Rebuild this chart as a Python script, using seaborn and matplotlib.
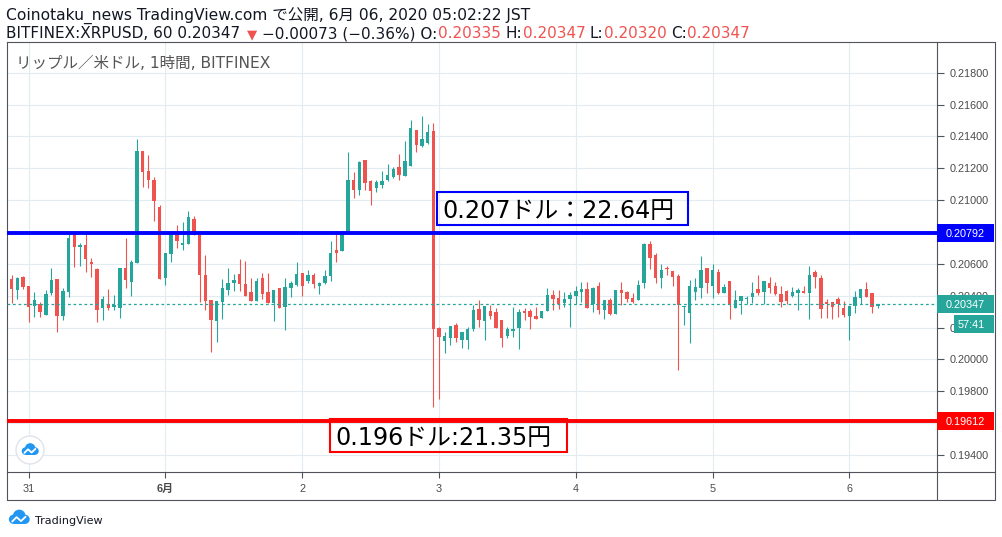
import numpy as np
import pandas as pd
import matplotlib
matplotlib.use("Agg")
import matplotlib.pyplot as plt
import seaborn as sns
from matplotlib.patches import Rectangle, Circle
from matplotlib.lines import Line2D
from matplotlib.transforms import IdentityTransform

# ---------------- data (XRP/USD, 1h candles, JST) ----------------
first_candle = "2020-05-30 21:00"

open_ = [0.20505, 0.20436, 0.20517, 0.20461, 0.20337, 0.20348, 0.20281, 0.20419, 0.20505, 0.20275,
         0.20425, 0.20785, 0.20708, 0.20720, 0.20612, 0.20570, 0.20325, 0.20348, 0.20331, 0.20325,
         0.20574, 0.20488, 0.20605, 0.21308, 0.21185, 0.21128, 0.20957, 0.20513, 0.20664, 0.20783,
         0.20720, 0.20727, 0.20882, 0.20783, 0.20532, 0.20373, 0.20243, 0.20363, 0.20438, 0.20482,
         0.20536, 0.20476, 0.20423, 0.20369, 0.20511, 0.20423, 0.20356, 0.20448, 0.20331, 0.20450,
         0.20467, 0.20542, 0.20492, 0.20530, 0.20463, 0.20480, 0.20524, 0.20687, 0.20681, 0.20796,
         0.21126, 0.21064, 0.21252, 0.21120, 0.21076, 0.21095, 0.21126, 0.21145, 0.21208, 0.21151,
         0.21214, 0.21440, 0.21342, 0.21361, 0.21434, 0.20195, 0.20118, 0.20136, 0.20216, 0.20124,
         0.20124, 0.20191, 0.20316, 0.20243, 0.20304, 0.20298, 0.20247, 0.20149, 0.20180, 0.20199,
         0.20304, 0.20304, 0.20273, 0.20260, 0.20304, 0.20404, 0.20386, 0.20354, 0.20379, 0.20398,
         0.20423, 0.20442, 0.20348, 0.20461, 0.20310, 0.20373, 0.20285, 0.20436, 0.20423, 0.20386,
         0.20373, 0.20482, 0.20725, 0.20658, 0.20513, 0.20576, 0.20555, 0.20524, 0.20327, 0.20293,
         0.20423, 0.20448, 0.20574, 0.20461, 0.20549, 0.20417, 0.20492, 0.20323, 0.20367, 0.20379,
         0.20392, 0.20442, 0.20423, 0.20480, 0.20461, 0.20411, 0.20429, 0.20398, 0.20417, 0.20429,
         0.20417, 0.20549, 0.20511, 0.20360, 0.20360, 0.20379, 0.20323, 0.20273, 0.20335, 0.20386,
         0.20442, 0.20417, 0.20335]

high_ = [0.20530, 0.20517, 0.20524, 0.20461, 0.20421, 0.20360, 0.20436, 0.20574, 0.20505, 0.20448,
         0.20785, 0.20785, 0.20733, 0.20785, 0.20637, 0.20576, 0.20398, 0.20442, 0.20404, 0.20574,
         0.20764, 0.20624, 0.21384, 0.21308, 0.21285, 0.21145, 0.20969, 0.20668, 0.20783, 0.20844,
         0.20863, 0.20932, 0.20900, 0.20783, 0.20656, 0.20373, 0.20367, 0.20507, 0.20574, 0.20536,
         0.20630, 0.20618, 0.20511, 0.20511, 0.20542, 0.20542, 0.20436, 0.20448, 0.20511, 0.20492,
         0.20612, 0.20542, 0.20561, 0.20542, 0.20486, 0.20561, 0.20746, 0.20796, 0.20796, 0.21302,
         0.21177, 0.21246, 0.21252, 0.21126, 0.21126, 0.21183, 0.21227, 0.21208, 0.21290, 0.21371,
         0.21503, 0.21440, 0.21530, 0.21478, 0.21486, 0.20206, 0.20174, 0.20210, 0.20229, 0.20172,
         0.20203, 0.20342, 0.20373, 0.20335, 0.20342, 0.20323, 0.20247, 0.20206, 0.20329, 0.20316,
         0.20323, 0.20316, 0.20329, 0.20304, 0.20448, 0.20436, 0.20436, 0.20423, 0.20423, 0.20461,
         0.20486, 0.20486, 0.20455, 0.20486, 0.20373, 0.20386, 0.20436, 0.20486, 0.20429, 0.20417,
         0.20499, 0.20731, 0.20743, 0.20670, 0.20599, 0.20589, 0.20555, 0.20536, 0.20333, 0.20499,
         0.20511, 0.20649, 0.20574, 0.20599, 0.20568, 0.20473, 0.20492, 0.20436, 0.20398, 0.20398,
         0.20486, 0.20530, 0.20492, 0.20517, 0.20486, 0.20461, 0.20436, 0.20455, 0.20448, 0.20461,
         0.20586, 0.20561, 0.20530, 0.20379, 0.20360, 0.20392, 0.20367, 0.20335, 0.20429, 0.20442,
         0.20486, 0.20417, 0.20347]

low_ = [0.20356, 0.20377, 0.20440, 0.20237, 0.20268, 0.20268, 0.20281, 0.20402, 0.20170, 0.20250,
        0.20394, 0.20582, 0.20589, 0.20551, 0.20520, 0.20237, 0.20250, 0.20312, 0.20312, 0.20262,
        0.20450, 0.20400, 0.20605, 0.21085, 0.21078, 0.20871, 0.20507, 0.20469, 0.20614, 0.20702,
        0.20689, 0.20727, 0.20783, 0.20363, 0.20312, 0.20049, 0.20112, 0.20256, 0.20406, 0.20432,
        0.20432, 0.20400, 0.20369, 0.20369, 0.20381, 0.20356, 0.20243, 0.20325, 0.20187, 0.20394,
        0.20461, 0.20400, 0.20480, 0.20450, 0.20413, 0.20473, 0.20492, 0.20612, 0.20681, 0.20796,
        0.21013, 0.21032, 0.21064, 0.20969, 0.21051, 0.21076, 0.21120, 0.21139, 0.21126, 0.21151,
        0.21214, 0.21304, 0.21336, 0.21355, 0.19703, 0.19754, 0.20038, 0.20093, 0.20111, 0.20074,
        0.20067, 0.20180, 0.20206, 0.20124, 0.20256, 0.20199, 0.20080, 0.20136, 0.20143, 0.20067,
        0.20247, 0.20193, 0.20254, 0.20260, 0.20304, 0.20310, 0.20316, 0.20329, 0.20206, 0.20348,
        0.20360, 0.20323, 0.20298, 0.20285, 0.20254, 0.20279, 0.20285, 0.20342, 0.20360, 0.20354,
        0.20373, 0.20448, 0.20570, 0.20482, 0.20450, 0.20532, 0.20463, 0.19936, 0.20218, 0.20105,
        0.20373, 0.20386, 0.20417, 0.20386, 0.20411, 0.20417, 0.20254, 0.20323, 0.20285, 0.20348,
        0.20354, 0.20404, 0.20348, 0.20417, 0.20404, 0.20329, 0.20348, 0.20392, 0.20310, 0.20417,
        0.20254, 0.20448, 0.20260, 0.20260, 0.20254, 0.20266, 0.20266, 0.20122, 0.20291, 0.20348,
        0.20392, 0.20291, 0.20320]

close_ = [0.20444, 0.20511, 0.20457, 0.20331, 0.20373, 0.20300, 0.20411, 0.20498, 0.20275, 0.20430,
          0.20762, 0.20708, 0.20720, 0.20633, 0.20601, 0.20312, 0.20379, 0.20325, 0.20344, 0.20574,
          0.20501, 0.20612, 0.21308, 0.21179, 0.21128, 0.20997, 0.20507, 0.20668, 0.20783, 0.20745,
          0.20731, 0.20894, 0.20783, 0.20532, 0.20369, 0.20250, 0.20367, 0.20448, 0.20480, 0.20498,
          0.20476, 0.20400, 0.20369, 0.20492, 0.20413, 0.20356, 0.20436, 0.20325, 0.20455, 0.20480,
          0.20536, 0.20461, 0.20530, 0.20473, 0.20480, 0.20524, 0.20668, 0.20668, 0.20796, 0.21126,
          0.21064, 0.21239, 0.21108, 0.21057, 0.21114, 0.21120, 0.21158, 0.21195, 0.21158, 0.21246,
          0.21453, 0.21348, 0.21384, 0.21428, 0.20193, 0.20143, 0.20145, 0.20210, 0.20136, 0.20172,
          0.20191, 0.20310, 0.20249, 0.20335, 0.20273, 0.20199, 0.20136, 0.20191, 0.20191, 0.20298,
          0.20291, 0.20268, 0.20254, 0.20304, 0.20404, 0.20379, 0.20348, 0.20379, 0.20404, 0.20429,
          0.20442, 0.20323, 0.20448, 0.20310, 0.20373, 0.20285, 0.20436, 0.20417, 0.20379, 0.20360,
          0.20467, 0.20725, 0.20639, 0.20513, 0.20561, 0.20568, 0.20519, 0.20339, 0.20333, 0.20461,
          0.20455, 0.20561, 0.20480, 0.20561, 0.20417, 0.20455, 0.20348, 0.20373, 0.20398, 0.20386,
          0.20417, 0.20417, 0.20492, 0.20448, 0.20411, 0.20360, 0.20367, 0.20423, 0.20436, 0.20417,
          0.20530, 0.20517, 0.20316, 0.20348, 0.20329, 0.20348, 0.20279, 0.20335, 0.20392, 0.20442,
          0.20392, 0.20329, 0.20347]

price_ticks = [0.194, 0.196, 0.198, 0.200, 0.202, 0.204, 0.206, 0.208, 0.210, 0.212, 0.214, 0.216, 0.218]
# 0.19600 and 0.20800 are fully hidden under the level tags in the original
price_tick_labels = ["0.19400", "", "0.19800", "0.20000", "0.20200", "0.20400", "0.20600",
                     "", "0.21000", "0.21200", "0.21400", "0.21600", "0.21800"]
day_ticks = ["2020-05-31", "2020-06-01", "2020-06-02", "2020-06-03", "2020-06-04", "2020-06-05", "2020-06-06"]
day_labels = ["31", "6月", "2", "3", "4", "5", "6"]

resistance = 0.20792
support = 0.19612
last_price = 0.20347
countdown = "57:41"
resistance_note = "0.207ドル：22.64円"
support_note = "0.196ドル:21.35円"

# ---------------- style ----------------
sns.set_theme(style="white")
plt.rcParams["font.family"] = ["Liberation Sans", "Noto Sans CJK JP", "DejaVu Sans"]
UI_FONT = ["DejaVu Sans", "Noto Sans CJK JP"]

UP, DOWN = "#26a69a", "#ef5350"
FRAME = "#50535e"
TXT = "#4a4a4a"
GRID = "#e1ecf2"

W, H = 1002, 537
fig = plt.figure(figsize=(W / 100, H / 100), dpi=100)
fig.patch.set_facecolor("white")

L, R, T, B = 7, 937, 42, 472
ax = fig.add_axes([L / W, 1 - B / H, (R - L) / W, (B - T) / H])
ax.set_facecolor("white")

t0 = pd.Timestamp("2020-05-31 00:00")
times = pd.date_range(first_candle, periods=len(open_), freq="h")
x = ((times - t0) / pd.Timedelta(hours=1)).to_numpy(dtype=float)
xd = ((pd.to_datetime(day_ticks) - t0) / pd.Timedelta(hours=1)).to_numpy(dtype=float)

o = np.array(open_); h = np.array(high_); lo = np.array(low_); c = np.array(close_)
up = c >= o
cols = np.where(up, UP, DOWN)
body_bottom = np.minimum(o, c)
body_h = np.maximum(np.abs(c - o), 0.00007)

ax.vlines(x, lo, h, colors=cols, lw=0.8, zorder=2)
ax.bar(x, body_h, bottom=body_bottom, width=0.6, color=cols, linewidth=0, zorder=2)

ax.set_xlim(-3.808, 159.38)
ax.set_ylim(0.192932, 0.219927)

ax.axhline(resistance, color="#0000ff", lw=2.8, zorder=3)
ax.axhline(support, color="#ff0000", lw=2.8, zorder=3)
ax.axhline(last_price, color=UP, lw=0.9, ls=(0, (2.2, 2.2)), zorder=3)

ax.set_axisbelow(True)
ax.grid(True, color=GRID, lw=0.8)
ax.set_yticks(price_ticks)
ax.set_yticklabels(price_tick_labels)
ax.set_xticks(xd)
ax.set_xticklabels(day_labels)
ax.xaxis.get_ticklabels()[1].set_fontweight("bold")
ax.yaxis.tick_right()
ax.tick_params(axis="y", right=True, left=False, labelright=True, labelleft=False, direction="out",
               length=4.7, width=0.8, color=FRAME, pad=4.5, labelsize=7.8, labelcolor=TXT)
ax.tick_params(axis="x", bottom=True, direction="out", length=4, width=0.8, color=FRAME,
               pad=4.5, labelsize=7.8, labelcolor=TXT)
for s in ax.spines.values():
    s.set_visible(True)
    s.set_color(FRAME)
    s.set_linewidth(0.8)


# ---------------- figure-level helpers (pixel coords, top-left origin) ----------------
def fig_line(xs, ys, color=FRAME, lw=0.8):
    fig.add_artist(Line2D([v / W for v in xs], [1 - v / H for v in ys],
                          transform=fig.transFigure, color=color, lw=lw))


def fig_rect(x0, y0, x1, y1, **kw):
    fig.add_artist(Rectangle((x0 / W, 1 - y1 / H), (x1 - x0) / W, (y1 - y0) / H,
                             transform=fig.transFigure, **kw))


def py_of(price):
    return H - ax.transData.transform((0, price))[1]


# outer frame pieces
fig_line([937, 995], [42, 42])
fig_line([995, 995], [42, 500])
fig_line([7, 995], [500, 500])
fig_line([937, 995], [472, 472])
fig_line([937, 937], [472, 500])
fig_line([7, 7], [472, 500])


def price_tag(price, label, color):
    yy = py_of(price)
    fig_rect(937, yy - 9, 994, yy + 9, facecolor=color, edgecolor="none", zorder=5)
    fig_line([937, 941.5], [yy, yy], color="white", lw=0.8)
    fig.text(946 / W, 1 - yy / H, label, color="white", fontsize=7.8, va="center_baseline",
             ha="left", zorder=6)
    return yy


price_tag(resistance, f"{resistance:.5f}", "#0000ff")
yl = price_tag(last_price, f"{last_price:.5f}", UP)
price_tag(support, f"{support:.5f}", "#ff0000")
fig_rect(954, yl + 11, 994, yl + 29, facecolor=UP, edgecolor="none", zorder=5)
fig.text(958 / W, 1 - (yl + 20) / H, countdown, color="white", fontsize=7.8,
         va="center_baseline", ha="left", zorder=6)

# annotation boxes
fig_rect(437, 192, 688, 225, fill=False, edgecolor="#0000ff", lw=1.5, zorder=5)
fig.text(442.5 / W, 1 - 217.5 / H, resistance_note, fontsize=17.2, family=UI_FONT,
         color="black", va="baseline", ha="left", zorder=6)
fig_rect(330, 419, 567, 452, fill=False, edgecolor="#ff0000", lw=1.5, zorder=5)
fig.text(335 / W, 1 - 445 / H, support_note, fontsize=17.2, family=UI_FONT,
         color="black", va="baseline", ha="left", zorder=6)

# chart title inside the pane
fig.text(16.5 / W, 1 - 68.3 / H, "リップル／米ドル, 1時間, BITFINEX", fontsize=11.2, color="#555555",
         va="baseline", ha="left", family=UI_FONT)

# header
fig.text(6 / W, 1 - 20.7 / H, "Coinotaku_news TradingView.com で公開, 6月 06, 2020 05:02:22 JST",
         fontsize=11.2, color="#131722", va="baseline", ha="left", family=UI_FONT)

renderer = fig.canvas.get_renderer()
pieces = [("BITFINEX:XRPUSD, 60 0.20347", "#131722", 0),
          ("▼", DOWN, 7),
          ("−0.00073 (−0.36%) O:", "#131722", 5),
          ("0.20335", DOWN, 0.5),
          ("H:", "#131722", 4.5),
          ("0.20347", DOWN, 0.5),
          ("L:", "#131722", 4.5),
          ("0.20320", DOWN, 0.5),
          ("C:", "#131722", 4.5),
          ("0.20347", DOWN, 0.5)]
xc = 6
for s, col, gap in pieces:
    xc += gap
    fs = 9.5 if s == "▼" else 11
    tt = fig.text(xc / W, 1 - 38.3 / H, s, fontsize=fs, color=col, va="baseline", ha="left",
                  family=["DejaVu Sans"])
    xc = tt.get_window_extent(renderer).x1


# TradingView logos
def tv_logo(cx, cy, s, color="#2196f3"):
    tr = IdentityTransform()

    def P(px, py):
        return (px, H - py)

    for cxx, cyy, r in [(cx - 0.5 * s, cy + 0.12 * s, 0.42 * s),
                        (cx + 0.02 * s, cy - 0.18 * s, 0.58 * s),
                        (cx + 0.55 * s, cy + 0.12 * s, 0.42 * s)]:
        fig.add_artist(Circle(P(cxx, cyy), r, transform=tr, facecolor=color, edgecolor="none", zorder=7))
    fig.add_artist(Rectangle(P(cx - 0.5 * s, cy + 0.54 * s), 1.05 * s, 0.45 * s, transform=tr,
                             facecolor=color, edgecolor="none", zorder=7))
    pts = [(cx - 0.62 * s, cy + 0.32 * s), (cx - 0.22 * s, cy - 0.08 * s),
           (cx + 0.18 * s, cy + 0.28 * s), (cx + 0.6 * s, cy - 0.12 * s)]
    fig.add_artist(Line2D([p[0] for p in pts], [H - p[1] for p in pts], transform=tr,
                          color="white", lw=1.3, zorder=8))


fig.add_artist(Circle((30, H - 450), 14, transform=IdentityTransform(), facecolor="white",
                      edgecolor="#e0e3eb", lw=1, zorder=6))
tv_logo(30, 450, 9)
tv_logo(19, 518, 11)
fig.text(35 / W, 1 - 524 / H, "TradingView", fontsize=8, color="#131722", va="baseline", ha="left",
         family=UI_FONT)

fig.savefig("out.png", dpi=100, facecolor="white")
